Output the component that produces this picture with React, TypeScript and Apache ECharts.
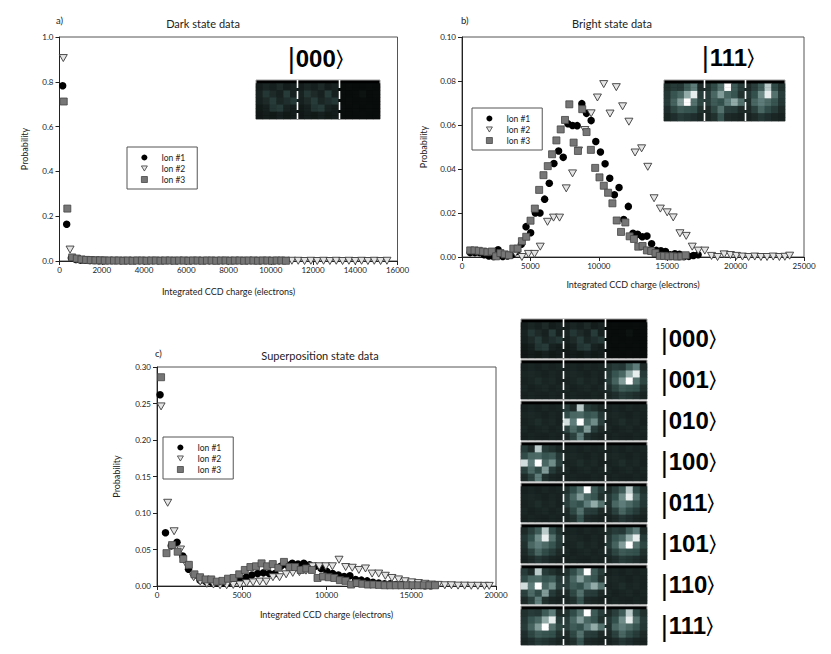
import React, { useEffect, useRef } from 'react';
import * as echarts from 'echarts';

// ---------- DATA ----------
const ionNames = ['Ion #1', 'Ion #2', 'Ion #3'];

// a) Dark state data
const darkIon1: number[][] = [[150,0.782],[340,0.164],[560,0.013],[780,0.007],[1000,0.004],[1220,0.003],[1440,0.002],[1660,0.002],[1880,0.001],[2100,0.001]];
const darkIon2: number[][] = [[180,0.906],[500,0.051],[800,0.009],[1100,0.004],[1400,0.003],[1700,0.002],[2000,0.002],[2300,0.001],[2600,0.001],[2900,0.001],[3200,0.001],[3500,0.001],[3800,0.001],[4100,0.001],[4400,0.001],[4700,0.001],[5000,0.001],[5300,0.001],[5600,0.001],[5900,0.001],[6200,0.001],[6500,0.001],[6800,0.001],[7100,0.001],[7400,0.001],[7700,0.001],[8000,0.001],[8300,0.001],[8600,0.001],[8900,0.001],[9200,0.001],[9500,0.001],[9800,0.001],[10100,0.001],[10400,0.001],[10700,0.001],[11000,0.001],[11300,0.001],[11600,0.0],[11900,0.001],[12200,0.0],[12500,0.001],[12800,0.0],[13100,0.001],[13400,0.0],[13700,0.001],[14000,0.0],[14300,0.001],[14600,0.0],[14900,0.001],[15200,0.0],[15500,0.001]];
const darkIon3: number[][] = [[200,0.712],[370,0.234],[600,0.016],[820,0.011],[1040,0.007],[1260,0.005],[1480,0.004],[1700,0.003],[1920,0.003],[2140,0.002],[2360,0.002],[2580,0.002],[2800,0.002],[3020,0.001],[3240,0.002],[3460,0.001],[3680,0.002],[3900,0.002],[4120,0.001],[4340,0.002],[4560,0.002],[4780,0.001],[5000,0.002],[5220,0.002],[5440,0.001],[5660,0.002],[5880,0.002],[6100,0.001],[6320,0.002],[6540,0.002],[6760,0.001],[6980,0.002],[7200,0.002],[7420,0.001],[7640,0.002],[7860,0.002],[8080,0.001],[8300,0.002],[8520,0.002],[8740,0.001],[8960,0.002],[9180,0.002],[9400,0.001],[9620,0.002],[9840,0.002],[10060,0.001],[10280,0.002],[10500,0.002],[10720,0.001]];

// b) Bright state data
const brightIon1: number[][] = [[600,0.002],[940,0.002],[1280,0.002],[1620,0.001],[1960,0.0005],[2300,0.0002],[2640,0.0033],[2980,0.0002],[3320,0.0005],[3660,0.001],[4000,0.0025],[4340,0.0058],[4680,0.0138],[5020,0.011],[5360,0.020],[5700,0.020],[6040,0.0263],[6380,0.0335],[6720,0.0425],[7060,0.0482],[7400,0.0453],[7740,0.0606],[8080,0.0598],[8420,0.0597],[8760,0.0697],[9100,0.0653],[9440,0.062],[9780,0.0525],[10120,0.0477],[10460,0.0424],[10800,0.0358],[11140,0.0283],[11480,0.0316],[11820,0.017],[12160,0.023],[12500,0.0108],[12840,0.0103],[13180,0.0092],[13520,0.0095],[13860,0.006],[14200,0.003],[14540,0.0028],[14880,0.0025],[15220,0.001],[15560,0.0015],[15900,0.0012],[16240,0.0002],[16580,0.0003],[16920,0.0007],[17260,0.001]];
const brightIon2: number[][] = [[3900,0.0017],[4380,0.0],[4860,0.0014],[5300,0.0014],[5720,0.0047],[6250,0.016],[6690,0.0179],[7130,0.0179],[7620,0.0312],[8080,0.038],[8520,0.0484],[8980,0.0577],[9440,0.0653],[9900,0.0725],[10360,0.0786],[10820,0.0652],[11280,0.0772],[11740,0.0685],[12200,0.0615],[12650,0.0475],[13130,0.0494],[13580,0.041],[14040,0.0267],[14500,0.022],[15000,0.0203],[15440,0.018],[15930,0.0108],[16390,0.0096],[16830,0.0047],[17270,0.0029],[17750,0.0029],[18240,0.0005],[18680,0.0],[19160,0.0012],[19620,0.0009],[20060,0.0005],[20500,0.0002],[20950,0.0],[21400,0.0002],[21850,0.0],[22300,0.0],[22750,0.0002],[23200,0.0],[23600,0.0001],[23950,0.0006]];
const brightIon3: number[][] = [[600,0.003],[915,0.003],[1230,0.0028],[1545,0.0025],[1860,0.0022],[2175,0.0025],[2490,0.0003],[2805,0.0018],[3120,0.0012],[3435,0.0008],[3750,0.0038],[4065,0.0038],[4380,0.0072],[4695,0.0092],[5010,0.0165],[5325,0.022],[5640,0.0305],[5955,0.0372],[6270,0.0413],[6585,0.0467],[6900,0.053],[7215,0.058],[7530,0.0623],[7845,0.0694],[8160,0.052],[8475,0.0482],[8790,0.0672],[9105,0.0568],[9420,0.0487],[9735,0.0405],[10050,0.0362],[10365,0.0324],[10680,0.0292],[10995,0.0244],[11310,0.0166],[11625,0.0114],[11940,0.0157],[12255,0.0094],[12570,0.0082],[12885,0.0047],[13200,0.005],[13515,0.003],[13830,0.0027],[14145,0.0018],[14460,0.0005],[14775,0.0005],[15090,0.0003],[15405,0.0004],[15720,0.0002],[16035,0.0003],[16350,0.0008]];

// c) Superposition state data
const superIon1: number[][] = [[180,0.262],[500,0.073],[840,0.055],[1180,0.06],[1520,0.041],[1860,0.023],[2200,0.015],[2540,0.008],[2880,0.006],[3220,0.005],[3560,0.004],[3900,0.004],[4240,0.005],[4580,0.007],[4920,0.01],[5260,0.012],[5600,0.015],[5940,0.017],[6280,0.018],[6620,0.017],[6960,0.017],[7300,0.027],[7640,0.029],[7980,0.031],[8320,0.03],[8660,0.031],[9000,0.029],[9340,0.027],[9680,0.024],[10020,0.02],[10360,0.017],[10700,0.015],[11040,0.013],[11380,0.014],[11720,0.009],[12060,0.008],[12400,0.007],[12740,0.005],[13080,0.004],[13420,0.003],[13760,0.003],[14100,0.002],[14440,0.002],[14780,0.001],[15120,0.001],[15460,0.001],[15800,0.0005],[16140,0.0005]];
const superIon2: number[][] = [[240,0.246],[630,0.114],[1010,0.075],[1390,0.05],[1770,0.028],[2160,0.012],[2550,0.006],[2940,0.003],[3330,0.002],[3720,0.001],[4110,0.001],[4500,0.0015],[4890,0.002],[5280,0.004],[5670,0.005],[6060,0.006],[6450,0.006],[6840,0.012],[7230,0.012],[7620,0.016],[8010,0.018],[8400,0.019],[8790,0.021],[9180,0.027],[9570,0.027],[9960,0.027],[10350,0.027],[10740,0.036],[11130,0.026],[11520,0.025],[11910,0.022],[12300,0.024],[12690,0.017],[13080,0.017],[13470,0.014],[13860,0.011],[14250,0.009],[14640,0.0065],[15030,0.005],[15420,0.004],[15810,0.003],[16200,0.002],[16590,0.0015],[16980,0.001],[17370,0.001],[17760,0.0005],[18150,0.0005],[18540,0.0003],[18930,0.0003],[19320,0.0002],[19600,0.0002]];
const superIon3: number[][] = [[240,0.286],[560,0.045],[890,0.056],[1220,0.047],[1550,0.037],[1880,0.029],[2210,0.016],[2540,0.012],[2870,0.009],[3200,0.009],[3530,0.006],[3860,0.007],[4190,0.01],[4520,0.011],[4850,0.016],[5180,0.022],[5510,0.026],[5840,0.027],[6170,0.031],[6500,0.027],[6830,0.03],[7160,0.025],[7490,0.033],[7820,0.026],[8150,0.026],[8480,0.022],[8810,0.024],[9140,0.022],[9470,0.011],[9800,0.013],[10130,0.012],[10460,0.011],[10790,0.008],[11120,0.007],[11450,0.002],[11780,0.004],[12110,0.003],[12440,0.002],[12770,0.002],[13100,0.0015],[13430,0.001],[13760,0.001],[14090,0.001],[14420,0.001],[14750,0.001],[15080,0.001],[15410,0.001],[15740,0.001],[16070,0.001],[16400,0.001]];

// Axis ticks
const darkXTicks = { min: 0, max: 16000, interval: 2000 };
const darkYTicks = { min: 0, max: 1, interval: 0.2 };
const brightXTicks = { min: 0, max: 25000, interval: 5000 };
const brightYTicks = { min: 0, max: 0.1, interval: 0.02 };
const superXTicks = { min: 0, max: 20000, interval: 5000 };
const superYTicks = { min: 0, max: 0.3, interval: 0.05 };

// CCD pixel intensities (0 = black, 1 = white), 5 rows x 6 columns per ion
const panelDim = [
  [0.14, 0.2, 0.16, 0.22, 0.14, 0.18],
  [0.18, 0.28, 0.22, 0.17, 0.3, 0.16],
  [0.16, 0.22, 0.3, 0.2, 0.24, 0.28],
  [0.12, 0.16, 0.27, 0.3, 0.18, 0.14],
  [0.1, 0.14, 0.12, 0.16, 0.12, 0.14],
];
const panelBlack = [
  [0.03, 0.04, 0.03, 0.03, 0.04, 0.03],
  [0.04, 0.03, 0.04, 0.07, 0.03, 0.04],
  [0.03, 0.04, 0.03, 0.04, 0.03, 0.03],
  [0.04, 0.03, 0.04, 0.03, 0.04, 0.03],
  [0.03, 0.03, 0.03, 0.04, 0.03, 0.03],
];
const panelDark = [
  [0.17, 0.19, 0.17, 0.2, 0.18, 0.19],
  [0.19, 0.21, 0.19, 0.17, 0.2, 0.18],
  [0.18, 0.2, 0.23, 0.19, 0.21, 0.17],
  [0.2, 0.17, 0.19, 0.21, 0.18, 0.2],
  [0.17, 0.19, 0.18, 0.17, 0.19, 0.18],
];
const panelBright1 = [
  [0.25, 0.3, 0.28, 0.45, 0.6, 0.22],
  [0.28, 0.42, 0.5, 0.75, 0.95, 0.3],
  [0.3, 0.48, 0.7, 1.0, 0.55, 0.35],
  [0.24, 0.35, 0.45, 0.42, 0.4, 0.25],
  [0.2, 0.24, 0.3, 0.27, 0.24, 0.2],
];
const panelBright2 = [
  [0.25, 0.38, 0.55, 1.0, 0.45, 0.3],
  [0.3, 0.5, 0.7, 0.5, 0.42, 0.25],
  [0.32, 0.45, 0.4, 0.6, 0.75, 0.55],
  [0.22, 0.36, 0.55, 0.32, 0.3, 0.22],
  [0.2, 0.25, 0.42, 0.22, 0.2, 0.18],
];
const panelBright3 = [
  [0.22, 0.32, 0.45, 0.85, 0.38, 0.25],
  [0.28, 0.4, 0.65, 0.95, 0.55, 0.3],
  [0.25, 0.5, 0.6, 0.52, 0.42, 0.28],
  [0.22, 0.33, 0.5, 0.38, 0.3, 0.22],
  [0.18, 0.22, 0.28, 0.24, 0.2, 0.18],
];
const panelBright4 = [
  [0.3, 0.22, 0.85, 0.3, 0.25, 0.2],
  [0.38, 0.5, 0.52, 0.42, 0.45, 0.28],
  [0.9, 0.6, 1.0, 0.5, 0.65, 0.32],
  [0.33, 0.52, 0.38, 0.7, 0.3, 0.22],
  [0.22, 0.33, 0.6, 0.25, 0.2, 0.18],
];
const kets = ['000', '001', '010', '100', '011', '101', '110', '111'];
const ketPanels: Record<string, number[][][]> = {
  '000': [panelDim, panelDim, panelBlack],
  '001': [panelDark, panelDark, panelBright1],
  '010': [panelDark, panelBright4, panelDark],
  '100': [panelBright4, panelDark, panelDark],
  '011': [panelDark, panelBright2, panelBright3],
  '101': [panelBright3, panelDark, panelBright1],
  '110': [panelBright4, panelBright2, panelDark],
  '111': [panelBright1, panelBright2, panelBright3],
};

// ---------- LAYOUT ----------
const FONT = 'Lato, "Open Sans", sans-serif';
const plots = [
  { left: 59.5, top: 37, width: 338, height: 224, x: darkXTicks, y: darkYTicks, yDec: 1, xGap: 26, yGap: 31,
    data: [darkIon1, darkIon2, darkIon3], legend: { left: 127, top: 147 },
    title: 'Dark state data', tx: 203, ty: 23, tag: 'a)', tagX: 56, tagY: 20 },
  { left: 462, top: 37, width: 342, height: 220, x: brightXTicks, y: brightYTicks, yDec: 2, xGap: 23, yGap: 34,
    data: [brightIon1, brightIon2, brightIon3], legend: { left: 472, top: 108 },
    title: 'Bright state data', tx: 612, ty: 23, tag: 'b)', tagX: 461, tagY: 20 },
  { left: 157, top: 367, width: 339, height: 219, x: superXTicks, y: superYTicks, yDec: 2, xGap: 24, yGap: 36,
    data: [superIon1, superIon2, superIon3], legend: { left: 163, top: 437 },
    title: 'Superposition state data', tx: 320, ty: 355, tag: 'c)', tagX: 155, tagY: 353 },
];
const columnTops = [319, 360, 401, 442, 483, 524, 565, 606];
const strips = [
  { ket: '000', left: 256, top: 80, width: 124, height: 39, lx: 287, ly: 58 },
  { ket: '111', left: 664, top: 80, width: 121, height: 41, lx: 701, ly: 57 },
  ...kets.map((k, i) => ({ ket: k, left: 521, top: columnTops[i], width: 126, height: 39, lx: 660, ly: columnTops[i] + 19.5 })),
];

const TRI = 'path://M0,0L10,0L5,8.5Z';

function stripCells(panels: number[][][]) {
  const out: number[][] = [];
  panels.forEach((p, pi) =>
    p.forEach((row, r) =>
      row.forEach((v, c) => {
        const x = pi * 6 + c;
        const y0 = (4 - r) * 2;
        out.push([x, y0, v], [x, y0 + 1, v]);
      })
    )
  );
  return out;
}

function ketText(ket: string, x: number, y: number) {
  return {
    type: 'text', x, y, z: 20,
    style: {
      text: '{b||}{d|' + ket + '}{k|\u232A}',
      verticalAlign: 'middle', align: 'left',
      rich: {
        b: { fontSize: 26, fontFamily: 'DejaVu Sans', fontWeight: 'normal', fill: '#000' },
        d: { fontSize: 24, fontFamily: '"Liberation Sans", Arial, sans-serif', fontWeight: 'bold', fill: '#000' },
        k: { fontSize: 22, fontFamily: 'DejaVu Sans', fontWeight: 'normal', fill: '#000' },
      },
    },
  };
}

export default function App() {
  const ref = useRef<HTMLDivElement>(null);
  useEffect(() => {
    if (!ref.current) return;
    const chart = echarts.init(ref.current, null, { renderer: 'svg' });

    const grids: any[] = [];
    const xAxes: any[] = [];
    const yAxes: any[] = [];
    const series: any[] = [];
    const legends: any[] = [];
    const graphics: any[] = [];

    plots.forEach((p, i) => {
      grids.push({ left: p.left, top: p.top, width: p.width, height: p.height, show: true, borderColor: '#555', borderWidth: 1, backgroundColor: 'transparent' });
      xAxes.push({
        gridIndex: i, type: 'value', min: p.x.min, max: p.x.max, interval: p.x.interval,
        name: 'Integrated CCD charge (electrons)', nameLocation: 'middle', nameGap: p.xGap,
        nameTextStyle: { fontFamily: FONT, fontSize: 9, color: '#222' },
        axisLine: { onZero: false, lineStyle: { color: '#222', width: 1 } },
        axisTick: { show: true, length: 4, lineStyle: { color: '#222' } },
        axisLabel: { fontFamily: FONT, fontSize: 8, color: '#222', margin: 5, formatter: (v: number) => String(v) },
        splitLine: { show: false },
      });
      yAxes.push({
        gridIndex: i, type: 'value', min: p.y.min, max: p.y.max, interval: p.y.interval,
        name: 'Probability', nameLocation: 'middle', nameGap: p.yGap, nameRotate: 90,
        nameTextStyle: { fontFamily: FONT, fontSize: 9, color: '#222' },
        axisLine: { show: true, onZero: false, lineStyle: { color: '#222', width: 1 } },
        axisTick: { show: true, length: 4, lineStyle: { color: '#222' } },
        axisLabel: { fontFamily: FONT, fontSize: 8, color: '#222', margin: 6, formatter: (v: number) => v.toFixed(p.yDec) },
        splitLine: { show: false },
      });
      const [d1, d2, d3] = p.data;
      series.push(
        { name: ionNames[0], type: 'scatter', xAxisIndex: i, yAxisIndex: i, data: d1, symbol: 'circle', symbolSize: 7.5, itemStyle: { color: '#000', opacity: 1 }, z: 3 },
        { name: ionNames[1], type: 'scatter', xAxisIndex: i, yAxisIndex: i, data: d2, symbol: TRI, symbolSize: [8, 7], itemStyle: { color: '#e4e4e4', borderColor: '#3a3a3a', borderWidth: 0.9, opacity: 1 }, z: 4 },
        { name: ionNames[2], type: 'scatter', xAxisIndex: i, yAxisIndex: i, data: d3, symbol: 'rect', symbolSize: 7, itemStyle: { color: '#767676', borderColor: '#454545', borderWidth: 0.8, opacity: 1 }, z: 5 },
      );
      legends.push({
        data: ionNames, left: p.legend.left, top: p.legend.top, orient: 'vertical',
        borderColor: '#555', borderWidth: 1, padding: [6, 12, 5, 14], itemGap: 2,
        itemWidth: 6, itemHeight: 6, selectedMode: false,
        itemStyle: { borderWidth: 0.8 },
        textStyle: { fontFamily: FONT, fontSize: 8.5, color: '#222', padding: [0, 0, 0, 9], lineHeight: 9 },
      });
      graphics.push(
        { type: 'text', x: p.tx, y: p.ty, style: { text: p.title, font: '11px ' + FONT, fill: '#222', align: 'center', verticalAlign: 'middle' } },
        { type: 'text', x: p.tagX, y: p.tagY, style: { text: p.tag, font: '9.5px ' + FONT, fill: '#222', align: 'left', verticalAlign: 'middle' } },
      );
    });

    const heatIdx: number[] = [];
    strips.forEach((s, j) => {
      const gi = plots.length + j;
      grids.push({ left: s.left, top: s.top, width: s.width, height: s.height, show: true, backgroundColor: '#000', borderColor: '#a0a0a0', borderWidth: 1 });
      xAxes.push({ gridIndex: gi, type: 'category', data: Array.from({ length: 18 }, (_, k) => String(k)), show: false });
      yAxes.push({ gridIndex: gi, type: 'category', data: Array.from({ length: 11 }, (_, k) => String(k)), show: false });
      heatIdx.push(series.length);
      series.push({
        type: 'heatmap', xAxisIndex: gi, yAxisIndex: gi, data: stripCells(ketPanels[s.ket]),
        itemStyle: { borderWidth: 0 }, emphasis: { disabled: true }, silent: true,
      });
      for (const f of [1 / 3, 2 / 3]) {
        const x = Math.round(s.left + s.width * f) + 0.5;
        graphics.push({ type: 'line', z: 15, shape: { x1: x, y1: s.top, x2: x, y2: s.top + s.height }, style: { stroke: '#fff', lineWidth: 1.6, lineDash: [8, 3] } });
      }
      graphics.push(ketText(s.ket, s.lx, s.ly));
    });

    chart.setOption({
      animation: false,
      backgroundColor: '#fff',
      grid: grids,
      xAxis: xAxes,
      yAxis: yAxes,
      legend: legends,
      visualMap: {
        type: 'continuous', show: false, min: 0, max: 1, seriesIndex: heatIdx,
        inRange: { color: ['#050807', '#1a2624', '#34504c', '#5e7c79', '#a3bab8', '#ffffff'] },
      },
      series,
      graphic: graphics,
    });
    return () => chart.dispose();
  }, []);
  return <div ref={ref} style={{ position: 'absolute', left: 0, top: 0, width: 831, height: 654 }} />;
}
